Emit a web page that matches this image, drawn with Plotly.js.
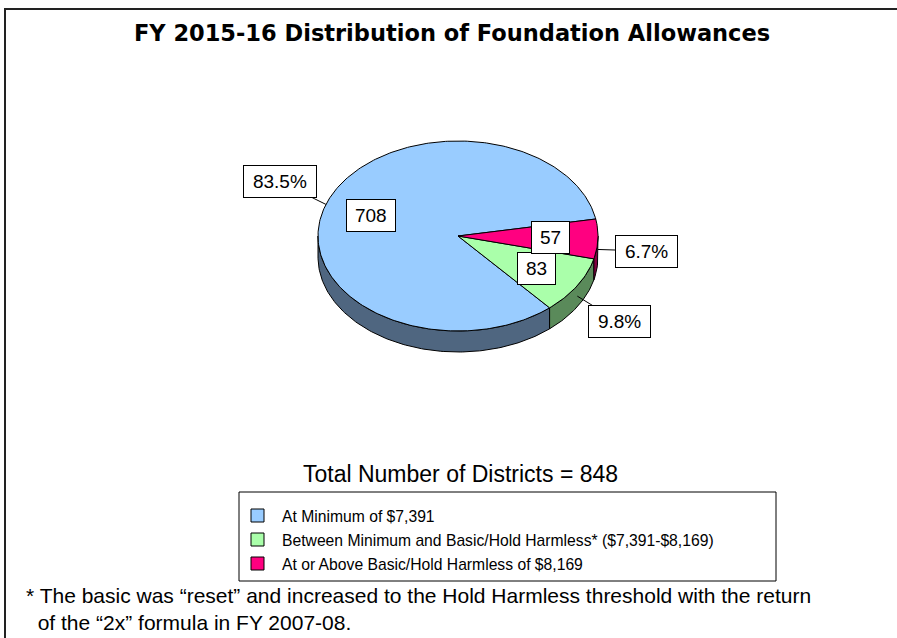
<!DOCTYPE html>
<html>
<head>
<meta charset="utf-8">
<script src="https://cdn.plot.ly/plotly-3.0.1.min.js"></script>
<style>html,body{margin:0;padding:0;background:#fff;}</style>
</head>
<body>
<div id="chart" style="width:897px;height:638px;"></div>
<script>
// ---- data ----
const categories = [
  'At Minimum of $7,391',
  'Between Minimum and Basic/Hold Harmless* ($7,391-$8,169)',
  'At or Above Basic/Hold Harmless of $8,169'
];
const counts = [708, 83, 57];
const topColors = ['#99CCFF', '#AAFFAA', '#FF0080'];
const sideColors = ['#4F6680', '#5A8A5A', '#80003F'];
const titleText = 'FY 2015-16 Distribution of Foundation Allowances';
const totalLabel = 'Total Number of Districts = ';
const footnote1 = '* The basic was \u201creset\u201d and increased to the Hold Harmless threshold with the return';
const footnote2 = 'of the \u201c2x\u201d formula in FY 2007-08.';

// ---- geometry of the 3D pie (pixel-mapped axes) ----
const W = 897, H = 638;
const cx = 458, cy = 236, rx = 140, ry = 95, depth = 21;
const startDeg = 10.3; // counter-clockwise from first slice

const total = counts.reduce((a, b) => a + b, 0);
function pt(deg, dy) {
  const r = deg * Math.PI / 180;
  return [cx + rx * Math.cos(r), cy - ry * Math.sin(r) + (dy || 0)];
}
function arc(a0, a1, dy) {
  const out = [];
  const n = Math.max(2, Math.ceil(Math.abs(a1 - a0)));
  for (let i = 0; i <= n; i++) out.push(pt(a0 + (a1 - a0) * i / n, dy));
  return out;
}
// approximate Arial advance widths (em) for label box sizing
function textW(s, size) {
  let w = 0;
  for (const ch of s) w += (ch === '.' ? 0.278 : ch === '%' ? 0.889 : 0.556);
  return w * size;
}

const slices = [];
let acc = startDeg;
counts.forEach((v, i) => {
  const sweep = v / total * 360;
  slices.push({a0: acc, a1: acc + sweep, mid: acc + sweep / 2, i});
  acc += sweep;
});

const traces = [];
// side walls (front half only)
slices.forEach(s => {
  for (let k = -1; k <= 1; k++) {
    const lo = Math.max(s.a0, k * 360 + 180), hi = Math.min(s.a1, k * 360 + 360);
    if (hi > lo) {
      const topE = arc(lo, hi, 0);
      const botE = arc(hi, lo, depth);
      const all = topE.concat(botE);
      all.push(topE[0]);
      traces.push({
        type: 'scatter', mode: 'lines', fill: 'toself',
        x: all.map(p => p[0]), y: all.map(p => p[1]),
        fillcolor: sideColors[s.i], line: {color: '#000', width: 1},
        hoverinfo: 'skip', showlegend: false
      });
    }
  }
});
// top faces
slices.forEach(s => {
  const pts = [[cx, cy]].concat(arc(s.a0, s.a1, 0));
  pts.push([cx, cy]);
  traces.push({
    type: 'scatter', mode: 'lines', fill: 'toself',
    x: pts.map(p => p[0]), y: pts.map(p => p[1]),
    fillcolor: topColors[s.i], line: {color: '#000', width: 1},
    name: categories[s.i], hoverinfo: 'name', showlegend: false
  });
});

const annotations = [];
const LS = 19;
const labelFont = {family: 'Liberation Sans, Arial, sans-serif', size: LS, color: '#000'};
// inside value labels
slices.forEach(s => {
  const p = pt(s.mid, 0);
  const f = 0.66;
  const t = String(counts[s.i]);
  annotations.push({
    x: cx + (p[0] - cx) * f, y: cy + (p[1] - cy) * f, xref: 'x', yref: 'y',
    text: t, showarrow: false, font: labelFont,
    bgcolor: '#fff', bordercolor: '#000', borderwidth: 1, borderpad: 4,
    width: textW(t, LS) + 8, height: 23
  });
});
// outside percentage labels with leader lines
slices.forEach(s => {
  const r = s.mid * Math.PI / 180;
  const front = Math.sin(r) < 0;
  const tip = pt(s.mid, front ? depth / 2 : 0);
  const dist = 49;
  const pct = (counts[s.i] / total * 100).toFixed(1) + '%';
  annotations.push({
    x: tip[0], y: tip[1], xref: 'x', yref: 'y',
    ax: tip[0] + dist * Math.cos(r), ay: tip[1] - dist * Math.sin(r) * (front ? 1.0 : 1.4),
    axref: 'x', ayref: 'y',
    text: pct, showarrow: true, arrowhead: 0, arrowwidth: 1, arrowcolor: '#000',
    font: labelFont, bgcolor: '#fff', bordercolor: '#000', borderwidth: 1, borderpad: 4,
    width: textW(pct, LS) + 10, height: 23
  });
});

// total label
annotations.push({
  x: 460, y: 474, xref: 'x', yref: 'y', showarrow: false,
  text: totalLabel + total, font: {family: 'Liberation Sans, Arial, sans-serif', size: 23, color: '#000'}
});

// legend (manual, Excel-style box)
const shapes = [];
const lgX0 = 239, lgX1 = 776, lgY0 = 492, lgY1 = 581, rowY0 = 516, rowStep = 24;
shapes.push({type: 'rect', xref: 'x', yref: 'y', x0: lgX0, x1: lgX1, y0: lgY0, y1: lgY1,
  line: {color: '#000', width: 1}, fillcolor: 'rgba(0,0,0,0)'});
categories.forEach((c, i) => {
  const yy = rowY0 + i * rowStep;
  shapes.push({type: 'rect', xref: 'x', yref: 'y', x0: 251, x1: 264, y0: yy - 7, y1: yy + 6,
    line: {color: '#000', width: 1}, fillcolor: topColors[i]});
  annotations.push({x: 280, y: yy, xref: 'x', yref: 'y', xanchor: 'left', showarrow: false,
    text: c, font: {family: 'Liberation Sans, Arial, sans-serif', size: 15.7, color: '#000'}});
});

// outer frame
shapes.push({type: 'rect', xref: 'paper', yref: 'paper', x0: 5 / W, x1: 1.02, y0: -0.05, y1: 1 - 9 / H,
  line: {color: '#222', width: 2}, fillcolor: 'rgba(0,0,0,0)', layer: 'below'});

// footnote (one text block, second line indented)
annotations.push({x: 24, y: 609, xref: 'x', yref: 'y', xanchor: 'left', yanchor: 'middle', align: 'left',
  showarrow: false,
  text: footnote1 + '<br>\u00a0\u00a0' + footnote2,
  font: {family: 'Liberation Sans, Arial, sans-serif', size: 21, color: '#000'}});

const layout = {
  width: W, height: H,
  margin: {l: 0, r: 0, t: 0, b: 0},
  paper_bgcolor: '#fff', plot_bgcolor: '#fff',
  title: {text: '<b>' + titleText + '</b>', x: 452 / W, xanchor: 'center', y: 1 - 33 / H, yanchor: 'middle',
    font: {family: 'DejaVu Sans, sans-serif', size: 22.5, color: '#000'}},
  xaxis: {range: [0, W], visible: false, fixedrange: true},
  yaxis: {range: [H, 0], visible: false, fixedrange: true},
  showlegend: false,
  annotations: annotations,
  shapes: shapes
};
Plotly.newPlot('chart', traces, layout, {displayModeBar: false, staticPlot: true});
</script>
</body>
</html>
